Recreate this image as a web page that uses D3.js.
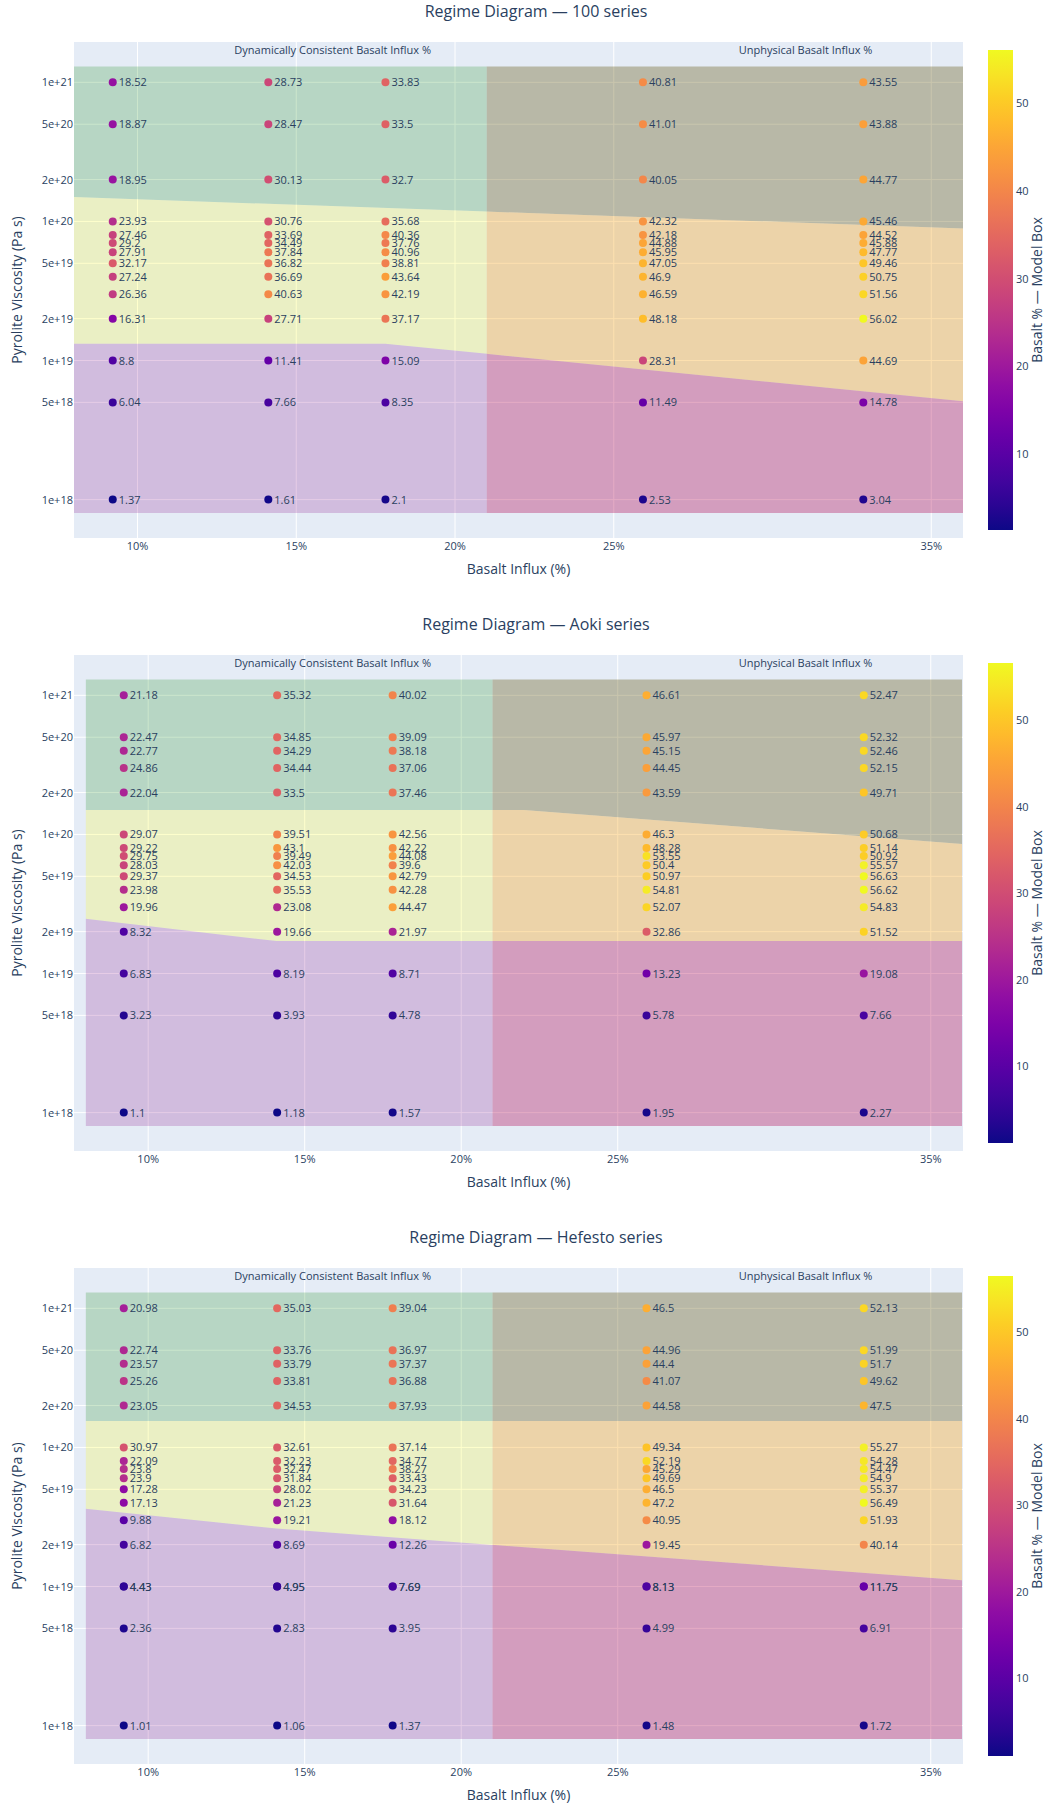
<!DOCTYPE html>
<html lang="en">
<head>
    <meta charset="UTF-8">
    <title>Regime diagrams</title>
    <style>
        html,body {
            margin : 0px;
            padding: 0px;
            background: #fff;
        }
        text { font-family: "Open Sans", sans-serif; fill: #2a3f5f; }
    </style>
    <script src="https://cdn.jsdelivr.net/npm/d3@7"></script>
</head>
<body>
<svg></svg>
<script>
// ---- data ----
const influx = [9.22, 14.12, 17.81, 25.92, 32.86];   // Basalt influx (%) of the five model columns

const visc100 = [1e21, 5e20, 2e20, 1e20, 8e19, 7e19, 6e19, 5e19, 4e19, 3e19, 2e19, 1e19, 5e18, 1e18];
const basalt100 = [
    [18.52, 28.73, 33.83, 40.81, 43.55],
    [18.87, 28.47, 33.5, 41.01, 43.88],
    [18.95, 30.13, 32.7, 40.05, 44.77],
    [23.93, 30.76, 35.68, 42.32, 45.46],
    [27.46, 33.69, 40.36, 42.18, 44.52],
    [29.2, 34.49, 37.76, 44.88, 45.88],
    [27.91, 37.84, 40.96, 45.95, 47.77],
    [32.17, 36.82, 38.81, 47.05, 49.46],
    [27.24, 36.69, 43.64, 46.9, 50.75],
    [26.36, 40.63, 42.19, 46.59, 51.56],
    [16.31, 27.71, 37.17, 48.18, 56.02],
    [8.8, 11.41, 15.09, 28.31, 44.69],
    [6.04, 7.66, 8.35, 11.49, 14.78],
    [1.37, 1.61, 2.1, 2.53, 3.04]
];

const viscAoki = [1e21, 5e20, 4e20, 3e20, 2e20, 1e20, 8e19, 7e19, 6e19, 5e19, 4e19, 3e19, 2e19, 1e19, 5e18, 1e18];
const basaltAoki = [
    [21.18, 35.32, 40.02, 46.61, 52.47],
    [22.47, 34.85, 39.09, 45.97, 52.32],
    [22.77, 34.29, 38.18, 45.15, 52.46],
    [24.86, 34.44, 37.06, 44.45, 52.15],
    [22.04, 33.5, 37.46, 43.59, 49.71],
    [29.07, 39.51, 42.56, 46.3, 50.68],
    [29.22, 43.1, 42.22, 48.28, 51.14],
    [29.75, 39.49, 44.08, 53.55, 50.92],
    [28.03, 42.03, 39.6, 50.4, 55.57],
    [29.37, 34.53, 42.79, 50.97, 56.63],
    [23.98, 35.53, 42.28, 54.81, 56.62],
    [19.96, 23.08, 44.47, 52.07, 54.83],
    [8.32, 19.66, 21.97, 32.86, 51.52],
    [6.83, 8.19, 8.71, 13.23, 19.08],
    [3.23, 3.93, 4.78, 5.78, 7.66],
    [1.1, 1.18, 1.57, 1.95, 2.27]
];

const viscHefesto = [1e21, 5e20, 4e20, 3e20, 2e20, 1e20, 8e19, 7e19, 6e19, 5e19, 4e19, 3e19, 2e19, 1e19, 1e19, 5e18, 1e18];
const basaltHefesto = [
    [20.98, 35.03, 39.04, 46.5, 52.13],
    [22.74, 33.76, 36.97, 44.96, 51.99],
    [23.57, 33.79, 37.37, 44.4, 51.7],
    [25.26, 33.81, 36.88, 41.07, 49.62],
    [23.05, 34.53, 37.93, 44.58, 47.5],
    [30.97, 32.61, 37.14, 49.34, 55.27],
    [22.09, 32.23, 34.77, 52.19, 54.28],
    [23.8, 32.47, 38.27, 45.29, 54.47],
    [23.9, 31.84, 33.43, 49.69, 54.9],
    [17.28, 28.02, 34.23, 46.5, 55.37],
    [17.13, 21.23, 31.64, 47.2, 56.49],
    [9.88, 19.21, 18.12, 40.95, 51.93],
    [6.82, 8.69, 12.26, 19.45, 40.14],
    [4.43, 4.95, 7.69, 8.13, 11.75],
    [4.43, 4.95, 7.69, 8.13, 11.75],
    [2.36, 2.83, 3.95, 4.99, 6.91],
    [1.01, 1.06, 1.37, 1.48, 1.72]
];

// regime boundaries [influx %, viscosity]
const upper100 = [[8, 1.5e20], [36, 8.9e19]];
const lower100 = [[8, 1.32e19], [17.8, 1.32e19], [36, 5.1e18]];
const upperAoki = [[8, 1.5e20], [22, 1.5e20], [36, 8.55e19]];
const lowerAoki = [[8, 2.48e19], [14.1, 1.71e19], [36, 1.71e19]];
const upperHefesto = [[8, 1.55e20], [36, 1.55e20]];
const lowerHefesto = [[8, 3.63e19], [14.1, 2.61e19], [36, 1.11e19]];

const regionTop = 1.3e21, regionBottom = 8e17;
const xSplit = 21, xMin = 8, xMax = 36;

const xTicks = [10, 15, 20, 25, 35];
const yTicks = [1e18, 5e18, 1e19, 2e19, 5e19, 1e20, 2e20, 5e20, 1e21];
const cTicks = [10, 20, 30, 40, 50];

const panels = [
    {title: 'Regime Diagram — 100 series', visc: visc100, vals: basalt100, xDom: [8, 36], upper: upper100, lower: lower100},
    {title: 'Regime Diagram — Aoki series', visc: viscAoki, vals: basaltAoki, xDom: [7.63, 36.03], upper: upperAoki, lower: lowerAoki},
    {title: 'Regime Diagram — Hefesto series', visc: viscHefesto, vals: basaltHefesto, xDom: [7.63, 36.03], upper: upperHefesto, lower: lowerHefesto}
];

// ---- layout ----
const W = 1051, H = 1804, PH = 613;
const P = {left: 74, right: 963, top: 42, bottom: 538};
const leftFills  = ['rgba(0,128,0,0.2)', 'rgba(255,255,0,0.2)', 'rgba(128,0,128,0.2)'];
const rightFills = ['rgba(100,88,20,0.35)', 'rgba(249,167,25,0.35)', 'rgba(178,12,86,0.35)'];

const svg = d3.select('svg').attr('width', W).attr('height', H);
const defs = svg.append('defs');

panels.forEach((p, i) => {
    const g = svg.append('g').attr('transform', `translate(0,${i * PH})`);
    const x = d3.scaleLinear().domain(p.xDom).range([P.left, P.right]);
    const y = d3.scaleLog().domain([Math.pow(10, 17.724), Math.pow(10, 21.29)]).range([P.bottom, P.top]);

    const pts = [];
    p.vals.forEach((row, r) => row.forEach((v, c) => pts.push({x: influx[c], v: p.visc[r], b: v})));
    const ext = d3.extent(pts, d => d.b);
    const color = v => d3.interpolatePlasma((v - ext[0]) / (ext[1] - ext[0]));

    // title
    g.append('text').attr('x', 536).attr('y', 17).attr('text-anchor', 'middle')
        .style('font-size', '16px').text(p.title);

    // plot bg + grid
    g.append('rect').attr('x', P.left).attr('y', P.top)
        .attr('width', P.right - P.left).attr('height', P.bottom - P.top).attr('fill', '#E5ECF6');
    g.selectAll('.gx').data(xTicks).enter().append('line')
        .attr('x1', d => x(d)).attr('x2', d => x(d)).attr('y1', P.top).attr('y2', P.bottom)
        .attr('stroke', '#fff').attr('stroke-width', 1);
    g.selectAll('.gy').data(yTicks).enter().append('line')
        .attr('y1', d => y(d)).attr('y2', d => y(d)).attr('x1', P.left).attr('x2', P.right)
        .attr('stroke', '#fff').attr('stroke-width', 1);

    // regime shading, clipped into the two influx halves
    const clips = [[xMin, xSplit], [xSplit, xMax]].map((lim, k) => {
        const id = `clip-${i}-${k}`;
        defs.append('clipPath').attr('id', id).append('rect')
            .attr('x', x(lim[0])).attr('width', x(lim[1]) - x(lim[0]))
            .attr('y', 0).attr('height', PH);
        return id;
    });
    const topLine = [[xMin, regionTop], [xMax, regionTop]];
    const botLine = [[xMin, regionBottom], [xMax, regionBottom]];
    const bands = [[topLine, p.upper], [p.upper, p.lower], [p.lower, botLine]];
    const poly = (a, b) => a.concat(b.slice().reverse()).map(d => [x(d[0]), y(d[1])].join(',')).join(' ');
    bands.forEach((band, k) => {
        g.append('polygon').attr('points', poly(band[0], band[1]))
            .attr('fill', leftFills[k]).attr('clip-path', `url(#${clips[0]})`);
        g.append('polygon').attr('points', poly(band[0], band[1]))
            .attr('fill', rightFills[k]).attr('clip-path', `url(#${clips[1]})`);
    });

    // region annotations
    g.append('text').attr('x', P.left + 0.291 * (P.right - P.left)).attr('y', P.top + 12)
        .attr('text-anchor', 'middle').style('font-size', '11px').text('Dynamically Consistent Basalt Influx %');
    g.append('text').attr('x', P.left + 0.823 * (P.right - P.left)).attr('y', P.top + 12)
        .attr('text-anchor', 'middle').style('font-size', '11px').text('Unphysical Basalt Influx %');

    // points + labels
    const dots = g.append('g');
    dots.selectAll('circle').data(pts).enter().append('circle')
        .attr('cx', d => x(d.x)).attr('cy', d => y(d.v)).attr('r', 4)
        .attr('fill', d => color(d.b));
    dots.selectAll('text').data(pts).enter().append('text')
        .attr('x', d => x(d.x) + 6).attr('y', d => y(d.v) + 4)
        .style('font-size', '11px').text(d => String(d.b));

    // axes labels
    g.selectAll('.xt').data(xTicks).enter().append('text')
        .attr('x', d => x(d)).attr('y', P.bottom + 12).attr('text-anchor', 'middle')
        .style('font-size', '11px').text(d => d + '%');
    g.selectAll('.yt').data(yTicks).enter().append('text')
        .attr('x', P.left - 1).attr('y', d => y(d) + 4).attr('text-anchor', 'end')
        .style('font-size', '11px').text(d => d.toExponential(0));
    g.append('text').attr('x', (P.left + P.right) / 2).attr('y', P.bottom + 36)
        .attr('text-anchor', 'middle').style('font-size', '14px').text('Basalt Influx (%)');
    g.append('text').attr('transform', `translate(22,${(P.top + P.bottom) / 2}) rotate(-90)`)
        .attr('text-anchor', 'middle').style('font-size', '14px').text('Pyrolite Viscosity (Pa s)');

    // colorbar
    const cb = {x: 988, w: 25, top: P.top + 8, bottom: P.bottom - 8};
    const cy = d3.scaleLinear().domain(ext).range([cb.bottom, cb.top]);
    const grad = defs.append('linearGradient').attr('id', `grad-${i}`)
        .attr('x1', 0).attr('x2', 0).attr('y1', 1).attr('y2', 0);
    d3.range(0, 1.0001, 0.05).forEach(t => grad.append('stop')
        .attr('offset', t).attr('stop-color', d3.interpolatePlasma(t)));
    g.append('rect').attr('x', cb.x).attr('y', cb.top).attr('width', cb.w)
        .attr('height', cb.bottom - cb.top).attr('fill', `url(#grad-${i})`);
    g.selectAll('.ct').data(cTicks).enter().append('text')
        .attr('x', cb.x + cb.w + 3).attr('y', d => cy(d) + 4)
        .style('font-size', '11px').text(d => d);
    g.append('text').attr('transform', `translate(1042,${(P.top + P.bottom) / 2}) rotate(-90)`)
        .attr('text-anchor', 'middle').style('font-size', '14px').text('Basalt % — Model Box');
});
</script>
</body>
</html>
